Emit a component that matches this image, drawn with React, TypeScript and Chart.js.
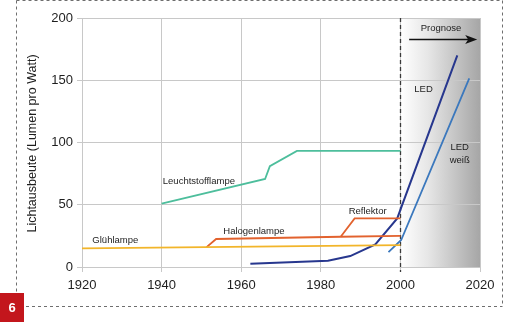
import React, { useEffect, useRef } from "react";
import { Chart, registerables } from "chart.js";

Chart.register(...registerables);

// ---- Data (years / lumen per watt) ----
const xTicks = [1920, 1940, 1960, 1980, 2000, 2020];
const yTicks = [0, 50, 100, 150, 200];

const gluehYears = [1920, 2000];
const gluehValues = [15, 17.5];

const halogenYears = [1951.3, 1953.7, 1985, 2000];
const halogenValues = [16, 22.5, 24.3, 25];

const reflektorYears = [1985, 1988.5, 2000];
const reflektorValues = [24.3, 39, 39];

const leuchtYears = [1940, 1966, 1967.2, 1974, 2000];
const leuchtValues = [51, 70.7, 81, 93.2, 93.2];

const ledYears = [1962.3, 1981.8, 1987.4, 1993.7, 1999.2, 2014.3];
const ledValues = [2.7, 5, 8.8, 18.2, 39, 170];

const ledWeissYears = [1997, 2000.2, 2017.3];
const ledWeissValues = [12, 21.7, 151.5];

const yTitle = "Lichtausbeute (Lumen pro Watt)";
const forecastStart = 2000;
const forecastLabel = "Prognose";

// text annotations: [text, year, value, align]
const annotations: [string, number, number, CanvasTextAlign][] = [
  ["Leuchtstofflampe", 1940.3, 69, "left"],
  ["Halogenlampe", 1955.5, 29, "left"],
  ["Glühlampe", 1922.6, 21, "left"],
  ["Reflektor", 1987, 44.5, "left"],
  ["LED", 2003.5, 142.7, "left"],
  ["LED", 2014.9, 96.4, "center"],
  ["weiß", 2014.9, 86, "center"],
];

const FONT = "'Liberation Sans', Arial, sans-serif";

const pts = (xs: number[], ys: number[]) => xs.map((x, i) => ({ x, y: ys[i] }));

const decorPlugin = {
  id: "decor",
  beforeDraw(chart: any) {
    const { ctx, chartArea, scales } = chart;
    const xs = scales.x;
    const x0 = xs.getPixelForValue(forecastStart);
    const x1 = chartArea.right;
    ctx.save();
    const g = ctx.createLinearGradient(x0, 0, x1, 0);
    g.addColorStop(0, "#ffffff");
    g.addColorStop(0.35, "#e6e6e6");
    g.addColorStop(1, "#a6a6a6");
    ctx.fillStyle = g;
    ctx.fillRect(x0, chartArea.top, x1 - x0, chartArea.bottom - chartArea.top);

    // outer dashed frame
    ctx.strokeStyle = "#6e6e6e";
    ctx.lineWidth = 1;
    ctx.setLineDash([3, 3]);
    ctx.beginPath();
    ctx.moveTo(16.5, 0.5);
    ctx.lineTo(502.5, 0.5);
    ctx.moveTo(16.5, 0.5);
    ctx.lineTo(16.5, 293);
    ctx.moveTo(502.5, 0.5);
    ctx.lineTo(502.5, 306.5);
    ctx.moveTo(26, 306.5);
    ctx.lineTo(502.5, 306.5);
    ctx.stroke();
    ctx.setLineDash([]);

    // figure badge
    ctx.fillStyle = "#c3161c";
    ctx.fillRect(0, 293, 24, 29);
    ctx.fillStyle = "#ffffff";
    ctx.font = `bold 13px ${FONT}`;
    ctx.textAlign = "center";
    ctx.textBaseline = "middle";
    ctx.fillText("6", 12, 308);
    ctx.restore();
  },
  beforeDatasetsDraw(chart: any) {
    const { ctx, chartArea, scales } = chart;
    const x0 = Math.round(scales.x.getPixelForValue(forecastStart)) + 0.5;
    ctx.save();
    ctx.strokeStyle = "#3a3a3a";
    ctx.lineWidth = 1.3;
    ctx.setLineDash([4, 3]);
    ctx.beginPath();
    ctx.moveTo(x0, chartArea.top);
    ctx.lineTo(x0, chartArea.bottom + 5);
    ctx.stroke();
    ctx.restore();
  },
  afterDatasetsDraw(chart: any) {
    const { ctx, chartArea, scales } = chart;
    const xs = scales.x;
    const ys = scales.y;
    ctx.save();
    ctx.fillStyle = "#1e1e1e";
    ctx.font = `9.5px ${FONT}`;
    ctx.textBaseline = "middle";
    for (const [t, x, y, al] of annotations) {
      ctx.textAlign = al;
      ctx.fillText(t, xs.getPixelForValue(x), ys.getPixelForValue(y));
    }
    // Prognose + arrow
    ctx.textAlign = "center";
    ctx.fillText(forecastLabel, xs.getPixelForValue(2010.2), ys.getPixelForValue(191.5));
    const ay = Math.round(ys.getPixelForValue(183)) + 0.5;
    const ax0 = xs.getPixelForValue(2002.2);
    const ax1 = xs.getPixelForValue(2019.3);
    ctx.strokeStyle = "#111";
    ctx.lineWidth = 1.3;
    ctx.beginPath();
    ctx.moveTo(ax0, ay);
    ctx.lineTo(ax1 - 8, ay);
    ctx.stroke();
    ctx.fillStyle = "#111";
    ctx.beginPath();
    ctx.moveTo(ax1, ay);
    ctx.lineTo(ax1 - 12, ay - 4.5);
    ctx.lineTo(ax1 - 9, ay);
    ctx.lineTo(ax1 - 12, ay + 4.5);
    ctx.closePath();
    ctx.fill();

    // y axis title
    ctx.translate(33, (chartArea.top + chartArea.bottom) / 2 + 1);
    ctx.rotate(-Math.PI / 2);
    ctx.font = `12.5px ${FONT}`;
    ctx.fillStyle = "#1e1e1e";
    ctx.textAlign = "center";
    ctx.textBaseline = "middle";
    ctx.fillText(yTitle, 0, 0);
    ctx.restore();
  },
};

export default function App() {
  const ref = useRef<HTMLCanvasElement>(null);
  useEffect(() => {
    document.body.style.margin = "0";
    const canvas = ref.current!;
    const lineDs = (label: string, xs: number[], ys: number[], color: string, w = 1.8) => ({
      label,
      data: pts(xs, ys),
      borderColor: color,
      backgroundColor: color,
      borderWidth: w,
      pointRadius: 0,
      tension: 0,
      fill: false,
    });
    const chart = new Chart(canvas, {
      type: "line",
      data: {
        datasets: [
          lineDs("Glühlampe", gluehYears, gluehValues, "#f2b52a"),
          lineDs("Halogenlampe", halogenYears, halogenValues, "#e2622e"),
          lineDs("Reflektor", reflektorYears, reflektorValues, "#e2622e"),
          lineDs("Leuchtstofflampe", leuchtYears, leuchtValues, "#4dbe9c"),
          lineDs("LED", ledYears, ledValues, "#27378e", 2),
          lineDs("LED weiß", ledWeissYears, ledWeissValues, "#3b78bd"),
        ],
      },
      options: {
        animation: false,
        responsive: false,
        devicePixelRatio: 1,
        parsing: true,
        layout: { padding: { left: 0, top: 18, right: 26, bottom: 0 } },
        plugins: { legend: { display: false }, tooltip: { enabled: false } },
        scales: {
          x: {
            type: "linear",
            min: 1920,
            max: 2020,
            afterFit: (s: any) => {
              s.height = 55;
            },
            afterBuildTicks: (s: any) => {
              s.ticks = xTicks.map((v) => ({ value: v }));
            },
            grid: { color: "#c8c8c8", lineWidth: 1, tickLength: 5, drawTicks: true },
            border: { color: "#c8c8c8" },
            ticks: {
              color: "#1e1e1e",
              font: { family: FONT, size: 13 },
              padding: 6,
              maxRotation: 0,
              callback: (v: any) => String(v),
            },
          },
          y: {
            type: "linear",
            min: 0,
            max: 200,
            afterFit: (s: any) => {
              s.width = 82;
            },
            afterBuildTicks: (s: any) => {
              s.ticks = yTicks.map((v) => ({ value: v }));
            },
            grid: { color: "#c8c8c8", lineWidth: 1, tickLength: 5 },
            border: { color: "#c8c8c8" },
            ticks: {
              color: "#1e1e1e",
              font: { family: FONT, size: 13 },
              padding: 4,
              callback: (v: any) => String(v),
            },
          },
        },
      },
      plugins: [decorPlugin],
    } as any);
    return () => chart.destroy();
  }, []);
  return (
    <div style={{ position: "fixed", left: 0, top: 0, width: 506, height: 322, background: "#fff" }}>
      <canvas ref={ref} width={506} height={322} style={{ display: "block", width: 506, height: 322 }} />
    </div>
  );
}
